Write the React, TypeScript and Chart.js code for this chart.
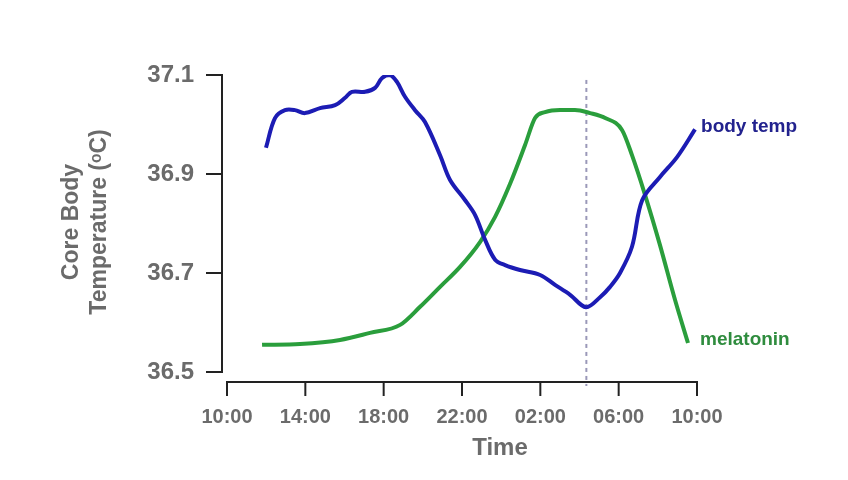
import React, { useEffect, useRef } from 'react';
import { Chart, registerables } from 'chart.js';

Chart.register(...registerables);

// ---- data ----
const tempHours = [11.99, 12.45, 12.96, 13.47, 13.98, 14.75, 15.52, 16.03, 16.38, 17.05, 17.56, 17.92, 18.32, 18.68, 19.09, 19.6, 20.11, 20.88, 21.39, 22.16, 22.67, 23.18, 23.69, 24.2, 24.96, 25.99, 26.75, 27.52, 28.33, 29.05, 29.56, 30.07, 30.68, 31.2, 32.11, 32.98, 33.9];
const tempValues = [36.953, 37.013, 37.029, 37.029, 37.023, 37.033, 37.039, 37.054, 37.066, 37.066, 37.074, 37.094, 37.1, 37.086, 37.056, 37.029, 37.005, 36.938, 36.888, 36.847, 36.817, 36.767, 36.727, 36.716, 36.706, 36.696, 36.676, 36.656, 36.631, 36.651, 36.672, 36.7, 36.753, 36.847, 36.894, 36.934, 36.99];
const melHours = [11.79, 13.73, 15.77, 17.3, 18.84, 19.86, 20.88, 21.9, 22.92, 23.69, 24.45, 25.22, 25.73, 26.24, 27.01, 27.77, 28.54, 29.31, 30.17, 30.68, 31.35, 32.11, 32.88, 33.54];
const melValues = [12.1, 12.4, 13.7, 16.0, 18.6, 24.5, 31.0, 37.5, 45.6, 53.8, 64.5, 77.2, 86.0, 87.9, 88.6, 88.6, 87.6, 86.0, 82.1, 73.9, 60.9, 44.6, 26.7, 12.7];
const yTickValues = [36.5, 36.7, 36.9, 37.1];
const xTickValues = [10, 14, 18, 22, 26, 30, 34];
const xTickLabels = ['10:00', '14:00', '18:00', '22:00', '02:00', '06:00', '10:00'];
const markerHour = 28.35;
const seriesNames = ['body temp', 'melatonin'];
const yTitleLines = ['Core Body', 'Temperature (\u1D52C)'];
const xTitle = 'Time';

const BLUE = '#1c1cb4';
const GREEN = '#2a9e3c';
const BLUE_TEXT = '#22228e';
const GREEN_TEXT = '#2f8c3e';
const GRAY = '#6b6b6b';
const AXIS = '#222222';
const FONT = "'Liberation Sans', Arial, sans-serif";

const overlay = {
  id: 'overlay',
  beforeDatasetsDraw(chart: any) {
    const ctx = chart.ctx;
    const x = chart.scales.x;
    const y = chart.scales.y;
    const px = x.getPixelForValue(markerHour);
    ctx.save();
    ctx.strokeStyle = '#9a98b8';
    ctx.lineWidth = 2;
    ctx.setLineDash([4, 4]);
    ctx.beginPath();
    ctx.moveTo(px, y.getPixelForValue(37.09));
    ctx.lineTo(px, y.bottom + 4);
    ctx.stroke();
    ctx.restore();
  },
  afterDraw(chart: any) {
    const ctx = chart.ctx;
    const x = chart.scales.x;
    const y = chart.scales.y;
    const y2 = chart.scales.y2;
    ctx.save();
    ctx.strokeStyle = AXIS;
    ctx.lineWidth = 2;
    ctx.lineCap = 'square';
    // y axis
    const ax = x.left - 5;
    ctx.beginPath();
    ctx.moveTo(ax, y.getPixelForValue(yTickValues[yTickValues.length - 1]));
    ctx.lineTo(ax, y.getPixelForValue(yTickValues[0]));
    ctx.stroke();
    yTickValues.forEach((v) => {
      const py = y.getPixelForValue(v);
      ctx.beginPath();
      ctx.moveTo(ax - 15, py);
      ctx.lineTo(ax, py);
      ctx.stroke();
    });
    // x axis
    const ay = y.bottom;
    ctx.beginPath();
    ctx.moveTo(x.getPixelForValue(xTickValues[0]), ay);
    ctx.lineTo(x.getPixelForValue(xTickValues[xTickValues.length - 1]), ay);
    ctx.stroke();
    xTickValues.forEach((v) => {
      const pxv = x.getPixelForValue(v);
      ctx.beginPath();
      ctx.moveTo(pxv, ay);
      ctx.lineTo(pxv, ay + 13);
      ctx.stroke();
    });
    // titles
    ctx.fillStyle = GRAY;
    ctx.font = `bold 23px ${FONT}`;
    ctx.textAlign = 'center';
    ctx.textBaseline = 'middle';
    const cy = 222;
    [72, 100].forEach((cx, i) => {
      ctx.save();
      ctx.translate(cx, cy);
      ctx.rotate(-Math.PI / 2);
      ctx.fillText(yTitleLines[i], 0, 0);
      ctx.restore();
    });
    ctx.font = `bold 24px ${FONT}`;
    ctx.fillText(xTitle, (x.left + x.right) / 2 + 38, 448);
    // series labels
    ctx.textAlign = 'left';
    ctx.font = `bold 19px ${FONT}`;
    ctx.fillStyle = BLUE_TEXT;
    const bx = x.getPixelForValue(tempHours[tempHours.length - 1]);
    const by = y.getPixelForValue(tempValues[tempValues.length - 1]);
    ctx.fillText(seriesNames[0], bx + 6, by - 3);
    ctx.fillStyle = GREEN_TEXT;
    const gx = x.getPixelForValue(melHours[melHours.length - 1]);
    const gy = y2.getPixelForValue(melValues[melValues.length - 1]);
    ctx.fillText(seriesNames[1], gx + 12, gy - 3);
    ctx.restore();
  },
};

export default function App() {
  const ref = useRef<HTMLCanvasElement>(null);
  useEffect(() => {
    document.body.style.margin = '0';
    const canvas = ref.current!;
    const chart = new Chart(canvas, {
      type: 'line',
      data: {
        datasets: [
          {
            label: seriesNames[0],
            data: tempHours.map((h, i) => ({ x: h, y: tempValues[i] })),
            borderColor: BLUE,
            borderWidth: 4,
            pointRadius: 0,
            tension: 0.35,
            yAxisID: 'y',
          },
          {
            label: seriesNames[1],
            data: melHours.map((h, i) => ({ x: h, y: melValues[i] })),
            borderColor: GREEN,
            borderWidth: 4,
            pointRadius: 0,
            cubicInterpolationMode: 'monotone',
            yAxisID: 'y2',
          },
        ],
      },
      options: {
        responsive: false,
        animation: false,
        layout: { padding: { left: 0, right: 151, top: 75, bottom: 0 } },
        plugins: { legend: { display: false }, tooltip: { enabled: false } },
        scales: {
          x: {
            type: 'linear',
            min: 10,
            max: 34,
            afterBuildTicks: (s: any) => {
              s.ticks = xTickValues.map((v) => ({ value: v }));
            },
            afterFit: (s: any) => {
              s.height = 98;
            },
            ticks: {
              autoSkip: false,
              maxRotation: 0,
              padding: 15,
              color: GRAY,
              font: { family: FONT, size: 20, weight: 'bold' },
              callback: (v: any) => xTickLabels[xTickValues.indexOf(Number(v))] ?? '',
            },
            grid: { display: false },
            border: { display: false },
          },
          y: {
            min: 36.4798,
            max: 37.1,
            afterBuildTicks: (s: any) => {
              s.ticks = yTickValues.map((v) => ({ value: v }));
            },
            afterFit: (s: any) => {
              s.width = 227;
            },
            ticks: {
              padding: 25,
              color: GRAY,
              font: { family: FONT, size: 24, weight: 'bold' },
              callback: (v: any) => Number(v).toFixed(1),
            },
            grid: { display: false },
            border: { display: false },
          },
          y2: { display: false, min: 0, max: 100 },
        },
      },
      plugins: [overlay],
    });
    return () => chart.destroy();
  }, []);
  return <canvas ref={ref} width={848} height={480} style={{ display: 'block' }} />;
}
